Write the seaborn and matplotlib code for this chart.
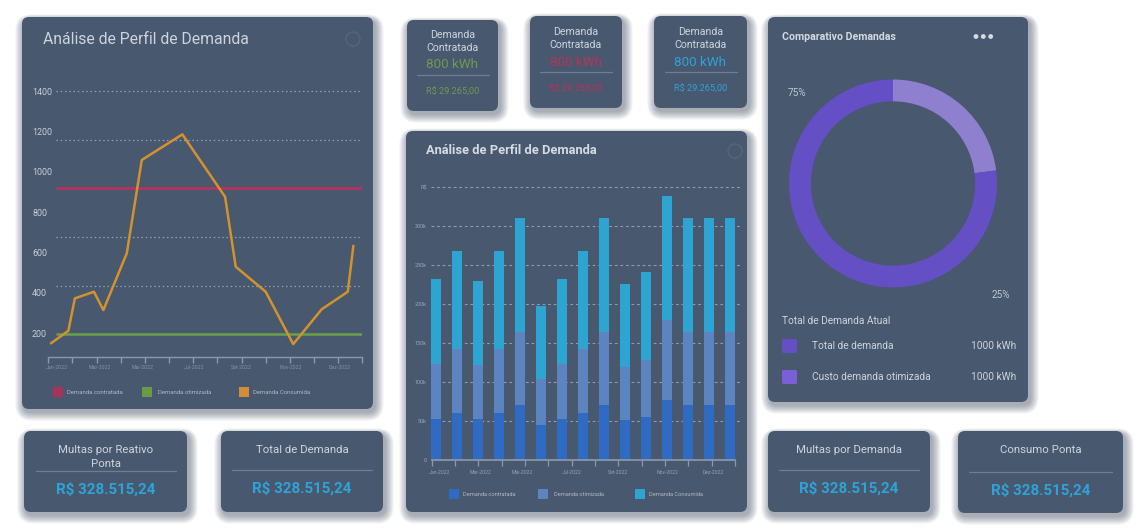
import numpy as np
import pandas as pd
import seaborn as sns
import matplotlib
matplotlib.use("Agg")
import matplotlib.pyplot as plt
from matplotlib.patches import FancyBboxPatch, Rectangle, Circle

# ---------------- data ----------------
# line chart (Análise de Perfil de Demanda)
line_x = [0.11, 0.83, 1.10, 1.89, 2.28, 3.25, 3.87, 5.55, 7.32, 7.76, 9.00, 10.14, 11.32, 12.40, 12.63]
line_consumida = [149, 211, 372, 405, 314, 596, 1059, 1186, 876, 529, 405, 145, 318, 405, 633]
line_contratada = 920
line_otimizada = 195
line_yticks = [200, 400, 600, 800, 1000, 1200, 1400]
line_grid = [1400, 1158, 675, 433]
month_labels = ["Jan-2022", "Mar-2022", "Mai-2022", "Jul-2022", "Set-2022", "Nov-2022", "Dez-2022"]
line_month_pos = [0.35, 2.12, 3.90, 6.03, 8.00, 10.06, 12.05]
line_axis_ticks = list(range(14))

# stacked bar chart (values in R$)
bar_ids = ["b01", "b02", "b03", "b04", "b05", "b06", "b07", "b08",
           "b09", "b10", "b11", "b12", "b13", "b14", "b15"]
bar_contratada = [52600, 60700, 52600, 60700, 70500, 44900, 52600, 60700,
                  70500, 51300, 55100, 76900, 70500, 70500, 70500]
bar_otimizada = [70900, 81300, 69200, 81300, 94000, 58900, 70900, 81300,
                 94000, 68400, 72900, 102600, 94000, 94000, 94000]
bar_consumida = [108500, 126000, 107700, 126000, 145500, 94200, 108500, 126000,
                 145500, 105900, 113000, 158500, 145500, 145500, 145500]
bar_yticks = [0, 50000, 100000, 150000, 200000, 250000, 300000, 350000]
bar_ytick_labels = ["0", "50k", "100k", "150k", "200k", "250k", "300k", "R$"]
bar_month_pos = [0.17, 2.14, 4.13, 6.48, 8.67, 11.02, 13.20]
bar_axis_ticks = [-0.2, 0.9, 2.0, 3.13, 4.24, 5.33, 6.46, 7.57, 8.67, 9.79, 10.9, 12.0, 13.13, 14.24]

# donut
donut_labels = ["Custo demanda otimizada", "Total de demanda"]
donut_values = [23, 77]

# KPI texts
kpi_top_value = "800 kWh"
kpi_top_money = "R$ 29.265,00"
kpi_bottom_titles = [["Multas por Reativo", "Ponta"], ["Total de Demanda"],
                     ["Multas por Demanda"], ["Consumo Ponta"]]
kpi_bottom_value = "R$ 328.515,24"

# ---------------- style ----------------
sns.set_theme(style="white")
plt.rcParams["font.family"] = ["Roboto", "DejaVu Sans"]

W, H = 1145, 530
CARD = "#48586E"
TXT = "#CDD4DE"
GREEN = "#6E9A4F"
RED = "#B8325A"
BLUE = "#2EA3D8"
ORANGE = "#D4922E"
LINE_RED = "#C22F5A"
LINE_GREEN = "#6AA04A"
B_DARK = "#2F6BC2"
B_MID = "#5B84C0"
B_CYAN = "#2EA4D3"
P_DARK = "#654FC4"
P_LIGHT = "#8E80CF"
AXIS = "#8C99AC"

fig = plt.figure(figsize=(W / 100, H / 100), dpi=100)
fig.patch.set_facecolor("white")

bg = fig.add_axes([0, 0, 1, 1])
bg.set_xlim(0, W)
bg.set_ylim(H, 0)
bg.axis("off")


def card(x0, y0, x1, y1, r=7):
    w, h = x1 - x0, y1 - y0
    for s in range(16, 0, -1):
        bg.add_patch(FancyBboxPatch((x0 - s * 0.55 + 2, y0 - s * 0.35 + 3), w + s * 1.1, h + s * 0.9,
                                    boxstyle=f"round,pad=0,rounding_size={r + s * 0.6}",
                                    fc="#34425a", ec="none", alpha=0.032, zorder=1))
    bg.add_patch(FancyBboxPatch((x0, y0), w, h, boxstyle=f"round,pad=0,rounding_size={r}",
                                fc=CARD, ec="none", zorder=2))


def faint_icon(x, y):
    bg.add_patch(Circle((x, y), 7, fc="none", ec="#54657d", lw=1.0, zorder=3))


# cards
card(22, 17, 373, 409)
card(407, 20, 498, 111)
card(530, 16, 622, 108)
card(654, 16, 747, 108)
card(406, 131, 747, 512)
card(768, 17, 1028, 402)
card(24, 431, 187, 512)
card(221, 431, 383, 512)
card(768, 431, 930, 512)
card(958, 431, 1123, 513)

# ---------- line chart card ----------
bg.text(43, 39, "Análise de Perfil de Demanda", fontsize=11.3, color=TXT, va="center", ha="left", zorder=5)
faint_icon(353, 39)

axL = fig.add_axes([48.3 / W, 1 - 357 / H, (362.3 - 48.3) / W, (357 - 80) / H])
axL.set_facecolor("none")
axL.set_xlim(0, 13)
axL.set_ylim(81, 1456)
axL.hlines(line_grid, 0.3, 13, colors="#93A0B3", linestyles=(0, (1.2, 2.2)), lw=0.9, zorder=1)
axL.hlines(line_contratada, 0.3, 12.97, colors=LINE_RED, lw=1.8, zorder=2)
axL.hlines(line_otimizada, 0.3, 12.97, colors=LINE_GREEN, lw=1.8, zorder=2)
df_line = pd.DataFrame({"x": line_x, "y": line_consumida})
sns.lineplot(data=df_line, x="x", y="y", sort=False, color=ORANGE, lw=1.8, ax=axL, zorder=3)
axL.set_xlabel("")
axL.set_ylabel("")
for s in ["top", "right", "left"]:
    axL.spines[s].set_visible(False)
axL.spines["bottom"].set_color(AXIS)
axL.spines["bottom"].set_linewidth(1.0)
axL.xaxis.remove_overlapping_locs = False
axL.set_xticks(line_axis_ticks)
axL.set_xticklabels([])
axL.set_xticks(line_month_pos, minor=True)
axL.set_xticklabels(month_labels, minor=True)
axL.tick_params(axis="x", which="major", length=4, width=1.0, color=AXIS, direction="out", bottom=True)
axL.tick_params(axis="x", which="minor", length=0, pad=6, labelsize=3.8, labelcolor="#8592A6", bottom=True)
axL.set_yticks(line_yticks)
axL.set_yticklabels([str(v) for v in line_yticks])
axL.tick_params(axis="y", length=0, pad=11.7, labelsize=6.4, labelcolor="#C8CFD9")
for t in axL.get_yticklabels():
    t.set_horizontalalignment("left")
axL.grid(False)

# line legend
for sx, tx, col, lab in [(58, 67, "#A8325A", "Demanda contratada"),
                         (147, 158, "#6A9A4A", "Demanda otimizada"),
                         (244, 253, "#D08F35", "Demanda Consumida")]:
    bg.add_patch(Rectangle((sx - 5, 387), 10, 10, fc=col, ec="none", zorder=5))
    bg.text(tx, 392, lab, fontsize=4.3, color="#AEB8C6", va="center", ha="left", zorder=5)

# ---------- KPI small cards ----------
for cx, dy, col in [(452.5, 0, GREEN), (576, -3, RED), (700.5, -3, BLUE)]:
    bg.text(cx, 35 + dy, "Demanda", fontsize=7.6, color=TXT, ha="center", va="center", zorder=5)
    bg.text(cx, 48 + dy, "Contratada", fontsize=7.6, color=TXT, ha="center", va="center", zorder=5)
    bg.text(cx, 65 + dy, kpi_top_value, fontsize=9.6, color=col, ha="center", va="center", zorder=5)
    bg.plot([cx - 36, cx + 36], [75 + dy, 75 + dy], color="#6F7E94", lw=0.9, zorder=5)
    bg.text(cx, 92 + dy, kpi_top_money, fontsize=6.6, color=col, ha="center", va="center", zorder=5)

# ---------- bar chart card ----------
bg.text(426, 151, "Análise de Perfil de Demanda", fontsize=9.3, fontweight="bold", color="#D5DBE3",
        va="center", ha="left", zorder=5)
faint_icon(735, 151)

axB = fig.add_axes([431 / W, 1 - 460 / H, (741 - 431) / W, (460 - 180) / H])
axB.set_facecolor("none")
lvl_mid = [a + b for a, b in zip(bar_contratada, bar_otimizada)]
lvl_top = [a + b for a, b in zip(lvl_mid, bar_consumida)]
for lv, col in [(lvl_top, B_CYAN), (lvl_mid, B_MID), (bar_contratada, B_DARK)]:
    sns.barplot(x=bar_ids, y=lv, color=col, saturation=1, width=0.48, linewidth=0,
                edgecolor="none", ax=axB)
for i, p in enumerate(axB.patches):
    p.set_zorder(3 + i * 0.001)
axB.set_xlim(-0.238, 14.52)
axB.set_ylim(0, 359000)
axB.set_xlabel("")
axB.set_ylabel("")
for s in ["top", "right", "left"]:
    axB.spines[s].set_visible(False)
axB.spines["bottom"].set_color(AXIS)
axB.spines["bottom"].set_bounds(-0.2, 14.24)
axB.spines["bottom"].set_zorder(4)
axB.hlines(bar_yticks[1:], -0.238, 14.52, colors="#8E9BAE", linestyles=(0, (2.5, 2.5)), lw=0.8, zorder=0.5)
axB.xaxis.remove_overlapping_locs = False
axB.set_xticks(bar_axis_ticks)
axB.set_xticklabels([])
axB.set_xticks(bar_month_pos, minor=True)
axB.set_xticklabels(month_labels, minor=True)
axB.tick_params(axis="x", which="major", length=4, width=0.9, color=AXIS, direction="out", bottom=True)
axB.tick_params(axis="x", which="minor", length=0, pad=7, labelsize=3.7, labelcolor="#95A1B3", bottom=True)
axB.set_yticks(bar_yticks)
axB.set_yticklabels(bar_ytick_labels)
axB.tick_params(axis="y", length=0, pad=3, labelsize=4.0, labelcolor="#9AA5B5")
axB.grid(False)

for sx, tx, col, lab in [(454, 463, B_DARK, "Demanda contratada"),
                         (543, 554, B_MID, "Demanda otimizada"),
                         (640, 649, B_CYAN, "Demanda Consumida")]:
    bg.add_patch(Rectangle((sx - 5, 489), 10, 10, fc=col, ec="none", zorder=5))
    bg.text(tx, 494, lab, fontsize=4.1, color="#AEB8C6", va="center", ha="left", zorder=5)

# ---------- donut card ----------
bg.text(782, 37, "Comparativo Demandas", fontsize=7.6, fontweight="bold", color="#D3D9E2",
        va="center", ha="left", zorder=5)
for dx in [976, 983.3, 990.7]:
    bg.add_patch(Circle((dx, 36.5), 2.4, fc="#D6DCE4", ec="none", zorder=5))

axD = fig.add_axes([789 / W, 1 - 287.5 / H, 208 / W, 208 / H])
axD.pie(donut_values, colors=[P_LIGHT, P_DARK], startangle=90, counterclock=False, radius=1,
        wedgeprops=dict(width=0.21, edgecolor="none"))
axD.set_xlim(-1, 1)
axD.set_ylim(-1, 1)
axD.set_aspect("equal")
axD.axis("off")

bg.text(797, 93, "75%", fontsize=7.2, color="#BFC7D2", ha="center", va="center", zorder=5)
bg.text(1000.5, 295, "25%", fontsize=7.2, color="#BFC7D2", ha="center", va="center", zorder=5)
bg.text(782, 321, "Total de Demanda Atual", fontsize=7.3, color=TXT, ha="left", va="center", zorder=5)
for y, col, lab in [(346, P_DARK, donut_labels[1]), (377, "#7A5FD6", donut_labels[0])]:
    bg.add_patch(FancyBboxPatch((782, y - 7), 15, 14, boxstyle="round,pad=0,rounding_size=1.5",
                                fc=col, ec="none", zorder=5))
    bg.text(812, y, lab, fontsize=7.3, color=TXT, ha="left", va="center", zorder=5)
    bg.text(1016, y, "1000 kWh", fontsize=7.3, color=TXT, ha="right", va="center", zorder=5)

# ---------- bottom KPI cards ----------
bottom_specs = [(105.5, 70, 471), (302, 70, 470), (849, 70, 470), (1040.5, 71.5, 472)]
for (cx, half, ly), titles in zip(bottom_specs, kpi_bottom_titles):
    if len(titles) == 2:
        bg.text(cx, 450, titles[0], fontsize=8.2, color=TXT, ha="center", va="center", zorder=5)
        bg.text(cx, 464, titles[1], fontsize=8.2, color=TXT, ha="center", va="center", zorder=5)
    else:
        bg.text(cx, 450, titles[0], fontsize=8.2, color=TXT, ha="center", va="center", zorder=5)
    bg.plot([cx - half, cx + half], [ly, ly], color="#6F7E94", lw=0.9, zorder=5)
    bg.text(cx, ly + 18, kpi_bottom_value, fontsize=10.9, fontweight="bold", color=BLUE,
            ha="center", va="center", zorder=5)

fig.savefig("out.png", dpi=100, facecolor="white")
